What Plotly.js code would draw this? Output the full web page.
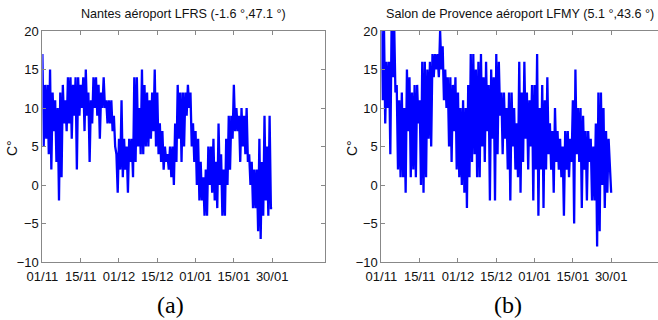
<!DOCTYPE html>
<html>
<head>
<meta charset="utf-8">
<script src="https://cdn.plot.ly/plotly-3.0.1.min.js"></script>
<style>
html,body{margin:0;padding:0;overflow:hidden;background:#fff;width:658px;height:320px;}
#chart{width:666px;height:320px;}
</style>
</head>
<body>
<div id="chart"></div>
<script>
// Temperatures (°C), two readings per day (approx. daily high / low), starting 01/11
const nantesTemp = [
17,5, 13,6, 13,4, 15,2, 12,7, 11,3, 10,-2, 12,1, 13,8, 11,7,
14,8, 14,6, 13,9, 14,2, 14,9, 13,10, 14,7, 15,9, 12,3, 11,8,
14,10, 14,9, 13,6, 12,10, 14,10, 11,8, 11,8, 11,7, 9,5, 4,-1,
6,2, 11,1, 6,2, 5,-1, 6,3, 6,1, 14,3, 14,5, 10,4, 15,4,
13,5, 12,5, 11,6, 12,7, 15,5, 12,4, 8,3, 7,2, 5,3, 4,2,
5,1, 5,0, 8,3, 13,6, 12,3, 12,5, 12,9, 13,10, 12,5, 8,3,
7,0, 6,-2, 3,-2, 1,-4, 2,-4, 5,0, 5,-1, 6,-2, 3,-3, 8,0,
4,-4, 2,-4, 6,0, 9,2, 9,6, 13,7, 10,7, 9,3, 10,5, 9,4,
10,3, 4,0, 3,-3, 2,-3, 2,-6, 6,-7, 3,-4, 9,-2, 5,-4, 9,-3,
-3
];
const salonTemp = [
20,11, 21,8, 16,10, 16,4, 21,14, 21,12, 13,2, 11,1, 12,1, 10,-1,
15,7, 14,1, 12,2, 13,1, 13,8, 11,0, 16,-1, 16,1, 15,6, 16,5,
17,14, 17,15, 17,14, 20,15, 18,11, 15,10, 14,5, 14,3, 13,7, 14,2,
12,1, 10,0, 11,-1, 10,-3, 13,1, 17,3, 17,4, 15,1, 16,1, 17,5,
14,3, 16,7, 13,-2, 15,6, 14,-2, 17,4, 16,9, 12,4, 12,6, 10,2,
12,-2, 12,5, 10,2, 8,1, 16,-1, 12,3, 16,6, 12,2, 11,5, 13,-2,
13,2, 17,-4, 10,2, 13,-3, 11,2, 14,4, 8,2, 7,-1, 10,3, 7,2,
6,1, 5,-4, 7,2, 7,1, 6,3, 11,-5, 15,4, 10,3, 10,-3, 9,2,
7,-2, 7,3, 6,-2, 5,-2, 8,-8, 12,-6, 12,0, 10,-3, 7,-1, 6,3,
-1
];
const tickDays = [0, 15, 30, 45, 60, 75, 90];
const tickLabels = ['01/11', '15/11', '01/12', '15/12', '01/01', '15/01', '30/01'];
const yTicks = [-10, -5, 0, 5, 10, 15, 20];
const titleA = 'Nantes aéroport LFRS (-1.6 °,47.1 °)';
const titleB = 'Salon de Provence aéroport LFMY (5.1 °,43.6 °)';

const W = 666, H = 320;
const days = arr => arr.map((_, i) => i * 0.5);

const traceA = {x: days(nantesTemp), y: nantesTemp, type: 'scatter', mode: 'lines',
  line: {color: '#0000ff', width: 2.3}, xaxis: 'x', yaxis: 'y', hoverinfo: 'skip'};
const traceB = {x: days(salonTemp), y: salonTemp, type: 'scatter', mode: 'lines',
  line: {color: '#0000ff', width: 2.3}, xaxis: 'x2', yaxis: 'y2', hoverinfo: 'skip'};

const tickFont = {family: 'Liberation Sans, Arial, sans-serif', size: 13, color: '#111'};
function xa(dom, anchor) {
  return {domain: dom, anchor: anchor, range: [0, 110.7], tickmode: 'array',
    tickvals: tickDays, ticktext: tickLabels, ticks: 'inside', ticklen: 4, tickcolor: '#888',
    showline: true, linecolor: '#888', linewidth: 1, mirror: 'ticks', showgrid: false,
    zeroline: false, tickfont: tickFont, ticklabelstandoff: 2};
}
function ya(dom, anchor) {
  return {domain: dom, anchor: anchor, range: [-10, 20], tickmode: 'array',
    tickvals: yTicks, ticks: 'inside', ticklen: 4, tickcolor: '#888',
    showline: true, linecolor: '#888', linewidth: 1, mirror: 'ticks', showgrid: false,
    zeroline: false, tickfont: tickFont};
}
const yDom = [(H - 262) / H, (H - 31) / H];
const titleFont = {family: 'Liberation Sans, Arial, sans-serif', size: 12.6, color: '#111'};
const layout = {
  width: W, height: H, margin: {l: 0, r: 0, t: 0, b: 0},
  paper_bgcolor: '#fff', plot_bgcolor: '#fff', showlegend: false,
  xaxis: xa([42.4 / W, 325 / W], 'y'),
  yaxis: ya(yDom, 'x'),
  xaxis2: xa([381.4 / W, 664 / W], 'y2'),
  yaxis2: ya(yDom, 'x2'),
  annotations: [
    {text: titleA, xref: 'paper', yref: 'paper', x: 183 / W, y: 1 - 14 / H, xanchor: 'center', yanchor: 'middle',
     showarrow: false, font: titleFont},
    {text: titleB, xref: 'paper', yref: 'paper', x: 520 / W, y: 1 - 14 / H, xanchor: 'center', yanchor: 'middle',
     showarrow: false, font: titleFont},
    {text: 'C°', xref: 'paper', yref: 'paper', x: 12 / W, y: 1 - 148 / H, xanchor: 'center', yanchor: 'middle',
     textangle: -90, showarrow: false, font: {family: 'Liberation Sans, Arial, sans-serif', size: 14, color: '#111'}},
    {text: 'C°', xref: 'paper', yref: 'paper', x: 352 / W, y: 1 - 148 / H, xanchor: 'center', yanchor: 'middle',
     textangle: -90, showarrow: false, font: {family: 'Liberation Sans, Arial, sans-serif', size: 14, color: '#111'}},
    {text: '(a)', xref: 'paper', yref: 'paper', x: 170 / W, y: 1 - 305 / H, xanchor: 'center', yanchor: 'middle',
     showarrow: false, font: {family: 'Liberation Serif, Times New Roman, serif', size: 24, color: '#000'}},
    {text: '(b)', xref: 'paper', yref: 'paper', x: 508 / W, y: 1 - 305 / H, xanchor: 'center', yanchor: 'middle',
     showarrow: false, font: {family: 'Liberation Serif, Times New Roman, serif', size: 24, color: '#000'}}
  ]
};
Plotly.newPlot('chart', [traceA, traceB], layout, {staticPlot: true, displayModeBar: false});
</script>
</body>
</html>
